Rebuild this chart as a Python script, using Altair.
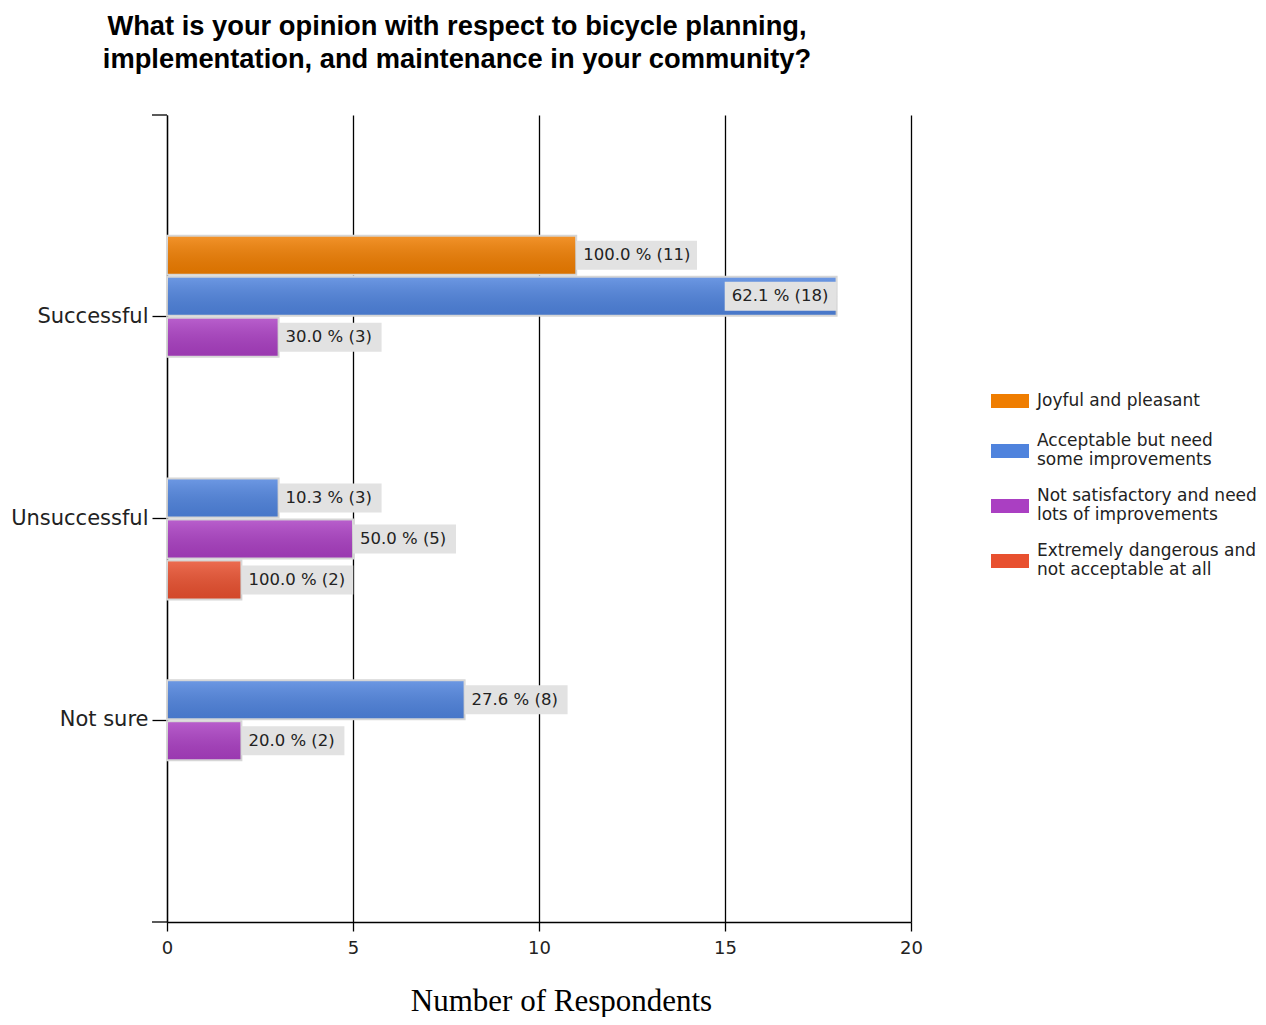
import altair as alt
import pandas as pd

categories = ["Successful", "Unsuccessful", "Not sure"]
series = [
    "Joyful and pleasant",
    "Acceptable but need some improvements",
    "Not satisfactory and need lots of improvements",
    "Extremely dangerous and not acceptable at all",
]
colors = ["#ef7d00", "#4f83dd", "#aa3fc2", "#e8502f"]

# counts per series (Successful, Unsuccessful, Not sure)
joyful_counts = [11, 0, 0]
acceptable_counts = [18, 3, 8]
notsat_counts = [3, 5, 2]
extreme_counts = [0, 2, 0]

# percent labels per series
joyful_pct = [100.0, 0.0, 0.0]
acceptable_pct = [62.1, 10.3, 27.6]
notsat_pct = [30.0, 50.0, 20.0]
extreme_pct = [0.0, 100.0, 0.0]

x_ticks = [0, 5, 10, 15, 20]

rows = []
for s, cnts, pcts in zip(series,
                         [joyful_counts, acceptable_counts, notsat_counts, extreme_counts],
                         [joyful_pct, acceptable_pct, notsat_pct, extreme_pct]):
    for c, v, p in zip(categories, cnts, pcts):
        rows.append({"category": c, "series": s, "value": v, "pct": p})
df = pd.DataFrame(rows)

W, H = 744, 807
px_per_unit = W / 20.0

x_axis = alt.Axis(values=x_ticks, grid=True, gridColor="black", gridWidth=1.3,
                  domainColor="black", domainWidth=1.3, tickColor="black",
                  tickSize=9, tickWidth=1.3, labelFont="DejaVu Sans",
                  labelFontSize=18, labelColor="#222222", labelPadding=8,
                  labelFlush=False,
                  title="Number of Respondents", titleFont="Liberation Serif",
                  titleFontSize=31, titleFontWeight="normal", titleColor="black",
                  titleX=394, titleY=88, titleAlign="center",
                  titleBaseline="alphabetic")
y_axis = alt.Axis(title=None, domainColor="black", domainWidth=1.3,
                  tickColor="black", tickSize=15, tickWidth=1.3,
                  labelFont="DejaVu Sans", labelFontSize=21,
                  labelColor="#222222", labelPadding=4, grid=False,
                  labelLimit=300)
xscale = alt.Scale(domain=[0, 20], nice=False)
yscale = alt.Scale(domain=categories, paddingInner=0.188, paddingOuter=0.594)

y_enc = alt.Y("category:N", sort=categories, scale=yscale, axis=y_axis)
yoff = alt.YOffset("series:N", sort=series,
                   scale=alt.Scale(domain=series, paddingInner=0, paddingOuter=0))

legend_expr = (
    "datum.label == 'Acceptable but need some improvements' ? ['Acceptable but need', 'some improvements'] : "
    "datum.label == 'Not satisfactory and need lots of improvements' ? ['Not satisfactory and need', 'lots of improvements'] : "
    "datum.label == 'Extremely dangerous and not acceptable at all' ? ['Extremely dangerous and', 'not acceptable at all'] : "
    "datum.label"
)
# swatch shapes: one-line entry centred, two-line entries shifted to the middle of the block
sw_center = "M-1,-0.37L1,-0.37L1,0.37L-1,0.37Z"
sw_low = "M-1,0.16L1,0.16L1,0.9L-1,0.9Z"

legend = alt.Legend(orient="none", legendX=823, legendY=266, title=None,
                    symbolSize=1444, symbolStrokeColor="#d4d4d4",
                    symbolStrokeWidth=2, symbolOpacity=1,
                    labelFont="DejaVu Sans", labelFontSize=17,
                    labelColor="#222222", labelOffset=7, rowPadding=8,
                    labelLimit=400, labelExpr=legend_expr, padding=0)

color_enc = alt.Color("series:N", sort=series,
                      scale=alt.Scale(domain=series, range=colors), legend=legend)
shape_enc = alt.Shape("series:N", sort=series,
                      scale=alt.Scale(domain=series, range=[sw_center, sw_low, sw_low, sw_low]),
                      legend=legend)

base = alt.Chart(df).transform_filter("datum.value > 0").transform_calculate(
    label="format(datum.pct, '.1f') + ' % (' + datum.value + ')'"
).transform_calculate(
    boxw=f"(length(datum.label) * 8.9 + 14) / {px_per_unit}"
).transform_calculate(
    inside="datum.value + datum.boxw > 20"
).transform_calculate(
    box_start="datum.inside ? datum.value - datum.boxw : datum.value",
    box_end="datum.inside ? datum.value : datum.value + datum.boxw",
)

keys = base.mark_point(filled=True, size=1, opacity=1).encode(
    x=alt.X("value:Q", scale=xscale, axis=x_axis),
    y=y_enc,
    yOffset=yoff,
    color=color_enc,
    shape=shape_enc,
)

bars = base.mark_bar(height=39, stroke="#d6d6d6", strokeWidth=2).encode(
    x=alt.X("value:Q", scale=xscale, axis=x_axis),
    y=y_enc,
    yOffset=yoff,
    color=color_enc,
)

shade = base.mark_bar(
    height=37,
    color=alt.Gradient(
        gradient="linear", x1=0, y1=0, x2=0, y2=1,
        stops=[alt.GradientStop(offset=0, color="rgba(255,255,255,0.16)"),
               alt.GradientStop(offset=1, color="rgba(0,0,0,0.09)")],
    ),
).encode(
    x=alt.X("value:Q", scale=xscale, axis=x_axis),
    y=y_enc,
    yOffset=yoff,
)

boxes = base.mark_bar(height=29, color="#e2e2e2").encode(
    x=alt.X("box_start:Q", scale=xscale, axis=x_axis),
    x2="box_end:Q",
    y=y_enc,
    yOffset=yoff,
)

texts = base.mark_text(align="left", baseline="middle", dx=7, font="DejaVu Sans",
                       fontSize=16.5, color="#222222").encode(
    x=alt.X("box_start:Q", scale=xscale, axis=x_axis),
    y=y_enc,
    yOffset=yoff,
    text="label:N",
)

tick_top = alt.Chart(alt.Data(values=[{"k": 0}])).mark_rule(color="black", strokeWidth=1.3).encode(
    x=alt.value(-15), x2=alt.value(0), y=alt.value(0)
)
tick_bot = alt.Chart(alt.Data(values=[{"k": 0}])).mark_rule(color="black", strokeWidth=1.3).encode(
    x=alt.value(-15), x2=alt.value(0), y=alt.value(H)
)

chart = alt.layer(keys, bars, shade, boxes, texts, tick_top, tick_bot).properties(
    width=W, height=H,
    title=alt.TitleParams(
        text=["What is your opinion with respect to bicycle planning,",
              "implementation, and maintenance in your community?"],
        font="Liberation Sans", fontSize=27.3, fontWeight="bold", color="black",
        anchor="start", align="center", dx=290, frame="group", lineHeight=33,
        offset=41,
    ),
    padding={"left": 159, "top": 107, "right": 347, "bottom": 95},
    autosize=alt.AutoSizeParams(type="none"),
).configure_view(stroke=None)

chart.save("out.html", embed_options={"renderer": "svg", "actions": False})
